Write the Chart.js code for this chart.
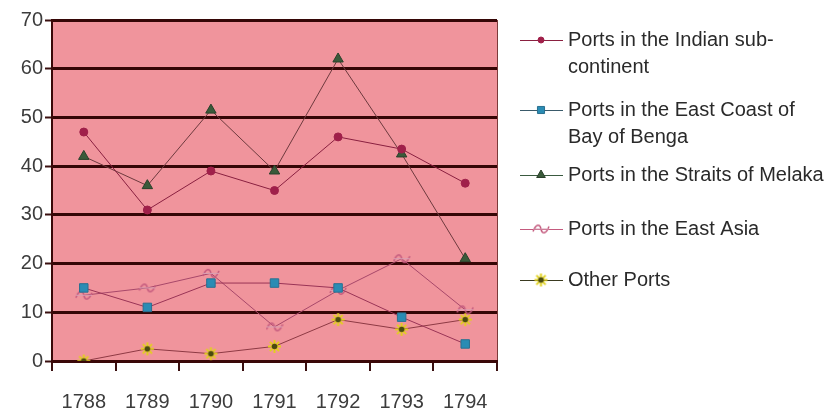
<!DOCTYPE html>
<html>
<head>
<meta charset="utf-8">
<script src="https://cdn.jsdelivr.net/npm/chart.js@4/dist/chart.umd.min.js"></script>
<style>
  html, body { margin: 0; padding: 0; background: #fff; }
  #wrap { width: 833px; height: 410px; position: relative; }
</style>
</head>
<body>
<div id="wrap"><canvas id="lineChart"></canvas></div>
<script>
// data
const years = ["1788", "1789", "1790", "1791", "1792", "1793", "1794"];
const indianSub = [47, 31, 39, 35, 46, 43.5, 36.5];
const eastCoastBengal = [15, 11, 16, 16, 15, 9, 3.5];
const straitsMelaka = [42, 36, 51.5, 39, 62, 42.5, 21];
const eastAsia = [13.5, 15, 18, 7, 14.5, 21, 10.5];
const otherPorts = [0, 2.5, 1.5, 3, 8.5, 6.5, 8.5];
const yTicks = [0, 10, 20, 30, 40, 50, 60, 70];
const legendLines = [
  ["Ports in the Indian sub-", "continent"],
  ["Ports in the East Coast of", "Bay of Benga"],
  ["Ports in the Straits of Melaka"],
  ["Ports in the East Asia"],
  ["Other Ports"],
];

// little drawn markers for the two odd point styles
function waveMarker() {
  const c = document.createElement("canvas");
  c.width = 18; c.height = 11;
  const g = c.getContext("2d");
  g.strokeStyle = "#c45a7e";
  g.lineWidth = 1.5;
  g.beginPath();
  g.moveTo(1, 8);
  g.bezierCurveTo(4, 0, 8, 0, 9, 5.5);
  g.bezierCurveTo(10, 11, 14, 11, 17, 3);
  g.stroke();
  g.beginPath();
  g.moveTo(1, 5.5);
  g.lineTo(17, 5.5);
  g.strokeStyle = "#d8a0b4";
  g.lineWidth = 1;
  g.stroke();
  return c;
}
function starMarker() {
  const c = document.createElement("canvas");
  c.width = 15; c.height = 15;
  const g = c.getContext("2d");
  g.strokeStyle = "#e2d21a";
  g.lineWidth = 2;
  for (let i = 0; i < 4; i++) {
    const a = i * Math.PI / 4;
    g.beginPath();
    g.moveTo(7.5 - 6.5 * Math.cos(a), 7.5 - 6.5 * Math.sin(a));
    g.lineTo(7.5 + 6.5 * Math.cos(a), 7.5 + 6.5 * Math.sin(a));
    g.stroke();
  }
  g.fillStyle = "#4a4a10";
  g.beginPath();
  g.arc(7.5, 7.5, 2.8, 0, Math.PI * 2);
  g.fill();
  return c;
}

const plotBg = {
  id: "plotBg",
  beforeDraw(chart) {
    const { ctx, chartArea: a } = chart;
    ctx.save();
    ctx.fillStyle = "#f0949c";
    ctx.fillRect(a.left, a.top, a.right - a.left, a.bottom - a.top);
    ctx.strokeStyle = "#7a3a3a";
    ctx.lineWidth = 1;
    ctx.beginPath();
    ctx.moveTo(a.right + 0.5, a.top);
    ctx.lineTo(a.right + 0.5, a.bottom);
    ctx.stroke();
    ctx.restore();
  },
};

const sideLegend = {
  id: "sideLegend",
  afterDraw(chart) {
    const ctx = chart.ctx;
    const rows = [40, 110, 175, 229, 280];
    ctx.save();
    chart.data.datasets.forEach((ds, i) => {
      const y = rows[i];
      ctx.strokeStyle = ds.legendLine;
      ctx.lineWidth = 1;
      ctx.beginPath();
      ctx.moveTo(520, y + 0.5);
      ctx.lineTo(563, y + 0.5);
      ctx.stroke();
      const ps = ds.pointStyle;
      if (typeof ps === "string") {
        ctx.fillStyle = ds.pointBackgroundColor;
        ctx.strokeStyle = ds.pointBorderColor;
        Chart.helpers.drawPoint(ctx, { pointStyle: ps, radius: ds.pointRadius - 1, borderWidth: 1, rotation: 0 }, 541, y);
      } else {
        ctx.drawImage(ps, 541 - ps.width / 2, y - ps.height / 2);
      }
      ctx.fillStyle = "#2a2a2a";
      ctx.font = "20px 'Liberation Sans', Arial, sans-serif";
      ctx.textBaseline = "middle";
      legendLines[i].forEach((t, k) => ctx.fillText(t, 568, y + k * 27));
    });
    ctx.restore();
  },
};

function series(label, data, line, legendLine, style, fill, border, radius) {
  return {
    label: label,
    data: data,
    borderColor: line,
    legendLine: legendLine,
    borderWidth: 1,
    pointStyle: style,
    pointBackgroundColor: fill,
    pointBorderColor: border,
    pointRadius: radius,
    pointHoverRadius: radius,
    tension: 0,
  };
}

const ctx = document.getElementById("lineChart");

const chart = new Chart(ctx, {
  type: "line",
  data: {
    labels: years,
    datasets: [
      series(legendLines[0].join(" "), indianSub, "#8a2040", "#8a2040", "circle", "#a0204a", "#a0204a", 4),
      series(legendLines[1].join(" "), eastCoastBengal, "#9a3456", "#3a5a6a", "rect", "#2a8cb4", "#2a7090", 6),
      series(legendLines[2].join(" "), straitsMelaka, "#6e3a3e", "#3a5a40", "triangle", "#3a5a3a", "#2a402a", 6),
      series(legendLines[3].join(" "), eastAsia, "#a8486a", "#c45a7e", waveMarker(), "#c45a7e", "#c45a7e", 7),
      series(legendLines[4].join(" "), otherPorts, "#8e3a44", "#3a3a20", starMarker(), "#e2d21a", "#4a4a10", 7),
    ],
  },
  options: {
    responsive: true,
    maintainAspectRatio: false,
    animation: false,
    layout: { padding: { left: 0, right: 336, top: 20, bottom: 0 } },
    plugins: {
      legend: { display: false },
      tooltip: { enabled: false },
    },
    scales: {
      x: {
        offset: true,
        afterFit: (s) => { s.height = 49; },
        grid: { offset: true, drawOnChartArea: false, drawTicks: true, tickLength: 10, color: "#3a1010", lineWidth: 2 },
        border: { color: "#3a0808", width: 3 },
        ticks: { color: "#3c3c3c", padding: 19, font: { size: 20, family: "'Liberation Sans', Arial, sans-serif" } },
      },
      y: {
        min: 0,
        max: 70,
        afterFit: (s) => { s.width = 52; },
        afterBuildTicks: (s) => { s.ticks = yTicks.map((v) => ({ value: v })); },
        grid: { color: "#350606", lineWidth: 3, tickLength: 7, tickColor: "#3a1010", tickWidth: 2 },
        border: { color: "#3a0808", width: 2 },
        ticks: { color: "#3c3c3c", padding: 2, font: { size: 20, family: "'Liberation Sans', Arial, sans-serif" } },
      },
    },
  },
  plugins: [plotBg, sideLegend],
});
</script>
</body>
</html>
